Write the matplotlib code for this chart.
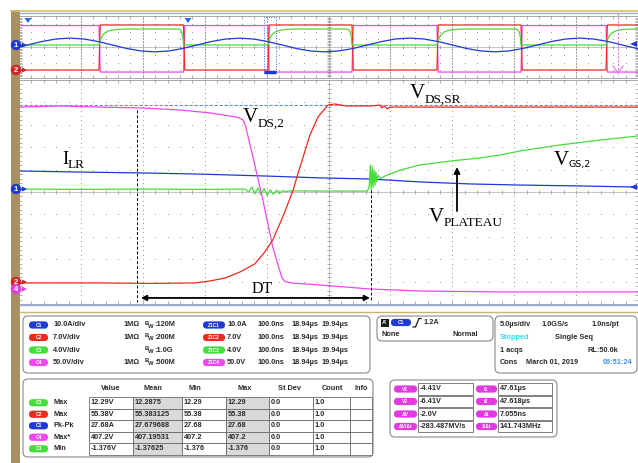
import numpy as np
import matplotlib.pyplot as plt
from matplotlib.patches import Rectangle, FancyBboxPatch, Circle, Polygon

# ---- zoom window traces: time in ns, level in divisions ----
vds2_t = [0, 66, 131, 200, 260, 309, 341, 354, 362, 366, 378, 394, 410, 420, 425, 430, 440, 486, 567, 648, 777, 1000]
vds2_v = [3.79, 3.84, 3.79, 3.75, 3.66, 3.53, 3.39, 3.33, 3.22, 2.95, 1.56, -0.36, -2.46, -3.40, -3.84, -4.00, -4.06, -4.15, -4.33, -4.42, -4.46, -4.46]

vdssr_t = [0, 131, 212, 284, 309, 333, 357, 381, 397, 410, 426, 443, 449, 460, 470, 483, 499, 510, 530, 567, 583, 586, 590, 595, 599, 648, 777, 1000]
vdssr_v = [-4.06, -4.06, -4.08, -4.06, -3.97, -3.84, -3.57, -3.21, -2.68, -2.14, -1.12, 0.09, 0.67, 1.65, 2.54, 3.35, 3.88, 3.93, 3.84, 3.84, 3.88, 3.75, 3.84, 3.71, 3.79, 3.79, 3.79, 3.79]

ilr_t = [0, 99, 200, 292, 402, 486, 567, 648, 729, 809, 906, 1000]
ilr_v = [0.94, 0.89, 0.85, 0.80, 0.71, 0.63, 0.58, 0.45, 0.36, 0.31, 0.27, 0.22]

vgs2_t = [0, 100, 200, 300, 365, 371, 376, 381, 386, 391, 396, 401, 406, 411, 416, 421, 426, 431, 440, 500,
          563, 566, 567.5, 569, 570.5, 572, 573.5, 575, 576.5, 578, 580, 584, 590, 599, 616, 648, 696, 745, 777,
          809, 874, 939, 1000]
vgs2_v = [0.13, 0.12, 0.13, 0.12, 0.13, 0.0, 0.22, -0.08, 0.18, -0.12, 0.15, -0.15, 0.1, -0.1, 0.08, -0.05, 0.06,
          0.02, 0.05, 0.04, 0.04, 0.3, 1.2, 0.1, 1.15, 0.2, 1.0, 0.3, 0.9, 0.45, 0.75, 0.6, 0.7, 0.80, 0.98, 1.21,
          1.38, 1.52, 1.65, 1.83, 2.10, 2.32, 2.50]

cursor_v = 3.88          # horizontal cursor level
dead_t = [190, 568]      # dead-time markers, ns

# ---- overview record: time in us ----
edges_us = [6.46, 13.29, 20.11, 26.90, 33.76, 40.55, 47.42]
red_lo, red_hi = -2.97, 2.84
pink_lo, pink_hi = -3.23, 2.77
gate_lo, gate_hi = 0.26, 2.32
gate_rise_dt = [0.0, 0.12, 0.3, 0.55, 0.9, 1.4, 2.2]
gate_rise_frac = [0.0, 0.35, 0.62, 0.8, 0.91, 0.97, 1.0]
gate_fall_dt = [-0.35, -0.15, -0.05, 0.0]
gate_fall_frac = [1.0, 0.85, 0.45, 0.0]

ilr_ov_t = [-0.46, 0.68, 1.83, 2.97, 4.12, 5.26, 6.40, 7.55, 8.69, 9.84, 10.98, 12.13, 13.27, 14.41, 15.56,
            16.70, 17.85, 18.99, 20.13, 21.28, 22.42, 23.57, 24.71, 25.85, 27.00, 28.14, 29.29, 30.43, 31.58,
            32.72, 33.86, 35.01, 36.15, 37.30, 38.44, 39.58, 40.73, 41.87, 43.02, 44.16, 45.30, 46.45, 47.59,
            48.74, 49.88, 51.03]
ilr_ov_v = [-0.19, 0.26, 0.70, 1.03, 1.15, 1.03, 0.70, 0.26, -0.19, -0.51, -0.63, -0.51,
            -0.18, 0.27, 0.71, 1.03, 1.14, 1.02, 0.69, 0.25, -0.20, -0.52, -0.63, -0.50,
            -0.19, 0.26, 0.70, 1.04, 1.15, 1.03, 0.70, 0.26, -0.19, -0.51, -0.62, -0.51,
            -0.18, 0.26, 0.71, 1.03, 1.15, 1.02, 0.70, 0.26, -0.19, -0.51]
zoom_win_us = [19.79, 20.76]

# ---- readouts ----
chan_names = ['C1', 'C2', 'C3', 'C4']
chan_scale = ['10.0A/div', '7.0V/div', '4.0V/div', '50.0V/div']
chan_imp = ['1MΩ', '1MΩ', '', '1MΩ']
chan_bw = [':120M', ':200M', ':1.0G', ':500M']
zoom_names = ['Z1C1', 'Z1C2', 'Z1C3', 'Z1C4']
zoom_scale = ['10.0A', '7.0V', '4.0V', '50.0V']
zoom_pos = ['100.0ns', '100.0ns', '100.0ns', '100.0ns']
zoom_t1 = ['18.94µs'] * 4
zoom_t2 = ['19.94µs'] * 4

meas_head = ['Value', 'Mean', 'Min', 'Max', 'St Dev', 'Count', 'Info']
meas_src = ['C3', 'C2', 'C1', 'C4', 'C3']
meas_kind = ['Max', 'Max', 'Pk-Pk', 'Max*', 'Min']
meas_vals = [['12.29V', '12.2875', '12.29', '12.29', '0.0', '1.0', ''],
             ['55.38V', '55.383125', '55.38', '55.38', '0.0', '1.0', ''],
             ['27.68A', '27.679688', '27.68', '27.68', '0.0', '1.0', ''],
             ['407.2V', '407.19531', '407.2', '407.2', '0.0', '1.0', ''],
             ['-1.376V', '-1.37625', '-1.376', '-1.376', '0.0', '1.0', '']]

cur_lnames = ['V1', 'V2', 'ΔV', 'ΔV/Δt']
cur_lvals = ['-4.41V', '-6.41V', '-2.0V', '-283.487MV/s']
cur_rnames = ['t1', 't2', 'Δt', '1/Δt']
cur_rvals = ['47.61µs', '47.618µs', '7.055ns', '141.743MHz']

C1, C2, C3, C4 = '#2038d4', '#ec2a1e', '#46dc3c', '#ec48ec'
CH_COL = {'C1': C1, 'C2': C2, 'C3': C3, 'C4': C4}
W, H = 638, 463
SANS = 'Liberation Sans'
SERIF = 'Liberation Serif'

fig = plt.figure(figsize=(W / 100, H / 100), dpi=100)


def px_axes(x0, y0, x1, y1):
    return fig.add_axes([x0 / W, 1 - y1 / H, (x1 - x0) / W, (y1 - y0) / H])


def graticule(ax, ny):
    x0, x1 = ax.get_xlim()
    y0, y1 = ax.get_ylim()
    dx, dy = (x1 - x0) / 10, (y1 - y0) / ny
    mx = np.linspace(x0, x1, 51)
    my = np.linspace(y0, y1, ny * 5 + 1)
    for k in range(1, ny):
        ax.plot(mx, np.full(len(mx), y0 + k * dy), ls='none', marker='s', ms=0.7, mew=0, color='#9c9c9c')
    for k in range(1, 10):
        ax.plot(np.full(len(my), x0 + k * dx), my, ls='none', marker='s', ms=0.7, mew=0, color='#9c9c9c')
    xc, yc = (x0 + x1) / 2, (y0 + y1) / 2
    ax.axhline(yc, color='#b8b8b8', lw=0.6)
    ax.axvline(xc, color='#b8b8b8', lw=0.6)
    ax.plot(mx, np.full(len(mx), yc), ls='none', marker='|', ms=3, mew=0.6, color='#a4a4a4')
    ax.plot(np.full(len(my), xc), my, ls='none', marker='_', ms=3, mew=0.6, color='#a4a4a4')
    for yy in (y0, y1):
        ax.plot(mx, np.full(len(mx), yy), ls='none', marker='|', ms=4, mew=0.6, color='#a4a4a4')
    for xx in (x0, x1):
        ax.plot(np.full(len(my), xx), my, ls='none', marker='_', ms=4, mew=0.6, color='#a4a4a4')
    ax.set_xticks([])
    ax.set_yticks([])
    for s in ax.spines.values():
        s.set_color('#a8a8a8')
        s.set_linewidth(0.7)
    ax.spines['left'].set_color('#6e9fe6')
    ax.spines['left'].set_linewidth(1.4)


# ---- overview ----
ax_ov = px_axes(19, 16, 638, 78)
ax_ov.set_xlim(0, 50)
ax_ov.set_ylim(-4, 4)
graticule(ax_ov, 8)


def square(lo, hi, start_hi, ramp=0.1):
    t, v, level = [0.0], [hi if start_hi else lo], start_hi
    for e in edges_us:
        t += [e, e + ramp]
        v += [hi if level else lo, lo if level else hi]
        level = not level
    t.append(50.0)
    v.append(hi if level else lo)
    return t, v


def gate_wave():
    t, v = [0.0], [gate_lo]
    span = gate_hi - gate_lo
    rises, falls = edges_us[0::2], edges_us[1::2]
    for i, r in enumerate(rises):
        t += [r + d for d in gate_rise_dt]
        v += [gate_lo + f * span for f in gate_rise_frac]
        if i < len(falls):
            t += [falls[i] + d for d in gate_fall_dt]
            v += [gate_lo + f * span for f in gate_fall_frac]
    t.append(50.0)
    v.append(v[-1])
    return t, v


pt, pv = square(pink_lo, pink_hi, True)
rt, rv = square(red_lo, red_hi, False)
gt, gv = gate_wave()
ax_ov.plot(pt, pv, color=C4, lw=0.9)
ax_ov.plot(rt, rv, color=C2, lw=0.9)
ax_ov.plot(gt, gv, color=C3, lw=0.9)
ax_ov.plot(ilr_ov_t, ilr_ov_v, color=C1, lw=0.9)
ax_ov.add_patch(Rectangle((zoom_win_us[0], -3.35), zoom_win_us[1] - zoom_win_us[0], 7.2,
                          fill=False, ec='#3c5ee0', lw=0.7, ls=':'))
ax_ov.plot(zoom_win_us, [-3.23, -3.23], color='#1f3ad0', lw=2.5, solid_capstyle='butt')

# ---- zoom window ----
ax = px_axes(19, 80, 638, 304)
ax.set_xlim(0, 1000)
ax.set_ylim(-5, 5)
graticule(ax, 10)
ax.axhline(cursor_v, color='#5a8ef0', lw=0.8, ls=(0, (3, 1.5)))
ax.plot(ilr_t, ilr_v, color=C1, lw=0.9)
ax.plot(vgs2_t, vgs2_v, color=C3, lw=0.9)
ax.plot(vds2_t, vds2_v, color=C4, lw=0.9)
ax.plot(vdssr_t, vdssr_v, color=C2, lw=0.9)
ax.plot([dead_t[0]] * 2, [3.66, -4.91], color='black', lw=0.7, ls=(0, (3, 2)))
ax.plot([dead_t[1]] * 2, [0.09, -4.91], color='black', lw=0.7, ls=(0, (3, 2)))
ax.annotate('', xy=(dead_t[0] + 7, -4.73), xytext=(dead_t[1] - 1, -4.73),
            arrowprops=dict(arrowstyle='<|-|>', color='black', lw=1.3, mutation_scale=8,
                            shrinkA=0, shrinkB=0))

# ---- overlay in pixel coordinates ----
ov = fig.add_axes([0, 0, 1, 1])
ov.set_xlim(0, W)
ov.set_ylim(H, 0)
ov.axis('off')
renderer = fig.canvas.get_renderer()

ov.add_patch(Rectangle((11, 10), 8.5, H - 10, color='#a89060', lw=0))
ov.plot([11, W], [10.5, 10.5], color='#d9bd6a', lw=1.2)
ov.plot([19, W], [12.8, 12.8], color='#8cb0e8', lw=1.0)
ov.plot([19, W], [305, 305], color='#8cb0e8', lw=1.0)
ov.plot([19, W], [311.5, 311.5], color='#c9b27a', lw=1.0)

# trigger markers on top of overview
for x in (28, 188):
    ov.add_patch(Polygon([[x - 3.5, 18], [x + 3.5, 18], [x, 23]], color='#2a6ae0', lw=0))
# cursor at right of overview
ov.plot([618, 618], [13, 76], color='#f070f0', lw=0.8, ls=(0, (2, 1.5)))
ov.plot([613, 618, 623], [66, 73, 66], color='#f070f0', lw=0.8)


def chan_mark(y, n, col):
    ov.plot([20, 24], [y, y], color=col, lw=1)
    ov.add_patch(Polygon([[22, y - 2.5], [27, y], [22, y + 2.5]], color=col, lw=0))
    ov.add_patch(Circle((16, y), 5.2, color=col, lw=0))
    ov.text(16, y + 0.4, n, color='white', fontsize=5.5, fontweight='bold', family=SANS,
            ha='center', va='center')


def right_mark(y, col):
    ov.add_patch(Polygon([[637, y - 3], [630, y], [637, y + 3]], color=col, lw=0))


chan_mark(45, '1', C1)
chan_mark(70, '2', '#d42222')
chan_mark(189, '1', C1)
chan_mark(282, '2', '#d42222')
chan_mark(289, '4', '#e040e0')
right_mark(44, C1)
right_mark(187, C1)


def sub_label(x, y, main, sub, size=15, subsize=9.5, drop=4.5, subfam=SERIF):
    t = ov.text(x, y, main, fontsize=size, family=SERIF, va='baseline', ha='left')
    w = t.get_window_extent(renderer).width
    ov.text(x + w - 0.5, y + drop, sub, fontsize=subsize, family=subfam, va='baseline', ha='left')


sub_label(243, 122, 'V', 'DS,2')
sub_label(62, 164, 'I', 'LR', size=13.5, drop=4)
sub_label(410, 98, 'V', 'DS,SR')
sub_label(554, 165, 'V', 'GS,2', subsize=6.8, drop=2.5, subfam='DejaVu Sans')
sub_label(429, 222, 'V', 'PLATEAU')
ov.text(252, 293, 'DT', fontsize=11.5, family=SERIF, va='baseline')
ov.annotate('', xy=(457, 167), xytext=(457, 211),
            arrowprops=dict(arrowstyle='-|>', color='black', lw=1.3, mutation_scale=9,
                            shrinkA=0, shrinkB=0))

# ---- readout panels ----
TXT = dict(fontsize=5.3, family=SANS, fontweight='bold', color='#2a2a2a', va='center', ha='left')


def panel(x0, y0, x1, y1):
    ov.add_patch(FancyBboxPatch((x0, y0), x1 - x0, y1 - y0, boxstyle='round,pad=0,rounding_size=5',
                                fc='white', ec='#8a8a8a', lw=0.8))


def badge(x, y, w, name, col, fs=3.6):
    ov.add_patch(FancyBboxPatch((x, y - 3.6), w, 7.2, boxstyle='round,pad=0,rounding_size=3.6',
                                fc=col, ec='none'))
    ov.text(x + w / 2, y + 0.2, name, color='white', fontsize=fs, fontweight='bold', family=SANS,
            ha='center', va='center')


panel(23, 316, 370, 373)
rows_y = [325, 337.5, 350, 362.5]
for i, y in enumerate(rows_y):
    col = CH_COL[chan_names[i]]
    badge(29, y, 19, chan_names[i], col)
    ov.text(53, y, chan_scale[i], **TXT)
    if chan_imp[i]:
        ov.text(123, y, chan_imp[i], **TXT)
    ov.text(145, y - 1.8, 'B', **{**TXT, 'fontsize': 4.2})
    ov.text(148.5, y + 1.3, 'W', **{**TXT, 'fontsize': 4.2})
    ov.text(154, y, chan_bw[i], **TXT)
    badge(203, y, 22, zoom_names[i], col, fs=3.4)
    ov.text(227, y, zoom_scale[i], **TXT)
    ov.text(257, y, zoom_pos[i], **TXT)
    ov.text(292, y, zoom_t1[i], **TXT)
    ov.text(322, y, zoom_t2[i], **TXT)

# trigger panel
panel(377, 316, 493, 341)
ov.add_patch(Rectangle((381, 318.5), 8, 8, color='#1a1a1a', lw=0))
ov.text(385, 322.8, "A'", color='white', fontsize=4, fontweight='bold', family=SANS, ha='center', va='center')
badge(391, 322.5, 20, 'C1', C1)
ov.plot([413, 415.5, 419, 421], [327, 327, 318.5, 318.5], color='#1a1a1a', lw=0.9)
ov.text(423, 322.5, '1.2A', **TXT)
ov.text(382, 335, 'None', **TXT)
ov.text(478, 335, 'Normal', **{**TXT, 'ha': 'right'})

# timebase panel
panel(495, 316, 637, 373)
ov.text(500, rows_y[0], '5.0µs/div', **TXT)
ov.text(541, rows_y[0], '1.0GS/s', **TXT)
ov.text(591, rows_y[0], '1.0ns/pt', **TXT)
ov.text(500, rows_y[1], 'Stopped', **{**TXT, 'color': '#3ad6f0'})
ov.text(555, rows_y[1], 'Single Seq', **TXT)
ov.text(500, rows_y[2], '1 acqs', **TXT)
ov.text(587, rows_y[2], 'RL:50.0k', **TXT)
ov.text(500, rows_y[3], 'Cons', **TXT)
ov.text(526, rows_y[3], 'March 01, 2019', **TXT)
ov.text(603, rows_y[3], '06:51:24', **{**TXT, 'color': '#3a8fe8'})

# measurement table
panel(23, 379, 373, 457)
col_x = [89, 133, 182, 226, 269, 313, 350, 372]
row_y = [397, 408.5, 420, 431.5, 443, 454.5]
head_x = [111, 153, 195, 245, 290, 332, 361]
for hx, h in zip(head_x, meas_head):
    ov.text(hx, 389, h, **{**TXT, 'ha': 'center'})
for r in range(len(meas_vals)):
    ym = (row_y[r] + row_y[r + 1]) / 2
    badge(29, ym, 19, meas_src[r], CH_COL[meas_src[r]])
    ov.text(53, ym, meas_kind[r], **TXT)
    for c in range(len(meas_head)):
        fc = '#d9d9d9' if c in (1, 3) else 'white'
        ov.add_patch(Rectangle((col_x[c], row_y[r]), col_x[c + 1] - col_x[c], row_y[r + 1] - row_y[r],
                               fc=fc, ec='#6a6a6a', lw=0.6))
        ov.text(col_x[c] + 1.8, ym, meas_vals[r][c], **TXT)

# cursor panel
panel(390, 380, 557, 437)
cur_y = [389, 401.5, 414, 426.5]
for i, y in enumerate(cur_y):
    badge(394, y, 23, cur_lnames[i], '#e03ae0', fs=3.6)
    ov.add_patch(Rectangle((418, y - 5.8), 55, 11.6, fc='white', ec='#6a6a6a', lw=0.6))
    ov.text(420, y, cur_lvals[i], **TXT)
    badge(476, y, 21, cur_rnames[i], '#e03ae0', fs=3.6)
    ov.add_patch(Rectangle((498, y - 5.8), 54, 11.6, fc='white', ec='#6a6a6a', lw=0.6))
    ov.text(500, y, cur_rvals[i], **TXT)

fig.savefig('out.png', dpi=100)
